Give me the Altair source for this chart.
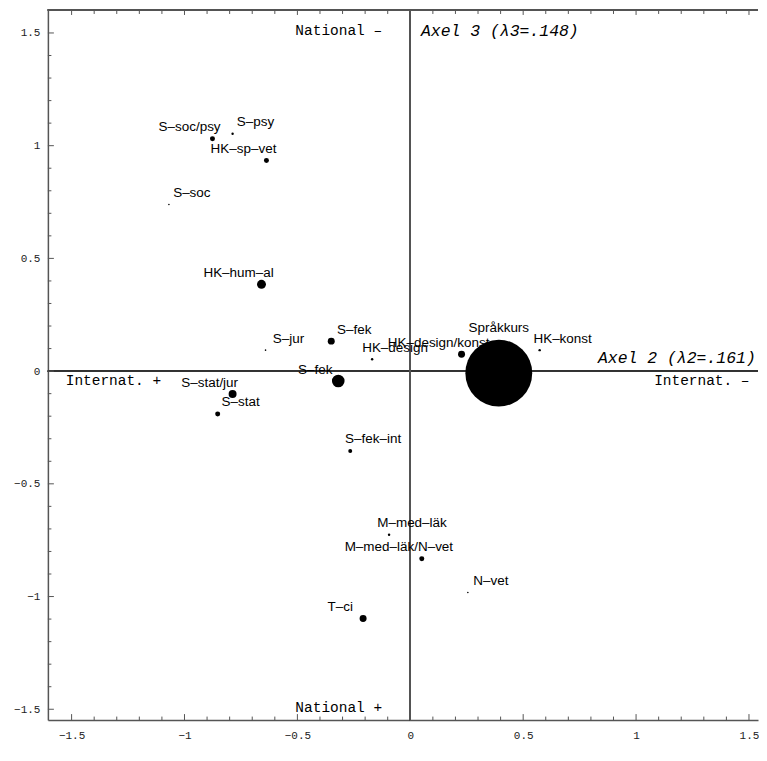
import altair as alt
import pandas as pd

# ---- data ----
NAMES = ["S–soc/psy", "S–psy", "HK–sp–vet", "S–soc", "HK–hum–al", "S–jur", "S–fek",
         "HK–design", "HK–design/konst", "Språkkurs", "HK–konst", "S–fek", "S–stat/jur",
         "S–stat", "S–fek–int", "M–med–läk", "M–med–läk/N–vet", "N–vet", "T–ci"]
AXIS2 = [-0.876, -0.787, -0.637, -1.069, -0.659, -0.641, -0.350,
         -0.169, 0.227, 0.392, 0.573, -0.319, -0.787,
         -0.853, -0.266, -0.094, 0.051, 0.255, -0.209]
AXIS3 = [1.031, 1.053, 0.934, 0.739, 0.385, 0.093, 0.133,
         0.053, 0.075, -0.009, 0.093, -0.044, -0.102,
         -0.190, -0.354, -0.726, -0.832, -0.982, -1.097]
MASS = [25, 6, 25, 2.5, 81, 2.5, 49,
        6, 49, 4489, 6, 160, 64,
        25, 16, 6, 25, 2.5, 49]
# label side: +1 right of point, -1 left of point, 0 above
SIDE = [-1, 1, -1, 1, -1, 1, 1,
        1, -1, 0, 1, -1, -1,
        1, 1, 1, -1, 1, -1]

MAJOR_TICKS = [-1.5, -1.0, -0.5, 0.0, 0.5, 1.0, 1.5]
MINOR_TICKS = [round(-1.5 + 0.1 * i, 1) for i in range(31) if i % 5 != 0]

ANNOT_TEXT = ["National –", "National +", "Internat. +", "Internat. –"]
ANNOT_X = [-0.509, -0.509, -1.526, 1.080]
ANNOT_Y = [1.509, -1.496, -0.044, -0.044]

AXEL_TEXT = ["Axel 3 (λ3=.148)", "Axel 2 (λ2=.161)"]
AXEL_X = [0.047, 1.530]
AXEL_Y = [1.509, 0.058]
AXEL_ALIGN = ["left", "right"]

W, H = 712, 712
XMIN, XMAX = -1.605, 1.540
YMIN, YMAX = -1.548, 1.602

df = pd.DataFrame({"name": NAMES, "d2": AXIS2, "d3": AXIS3, "mass": MASS, "side": SIDE})
ann = pd.DataFrame({"t": ANNOT_TEXT, "x": ANNOT_X, "y": ANNOT_Y})
axel = pd.DataFrame({"t": AXEL_TEXT, "x": AXEL_X, "y": AXEL_Y, "a": AXEL_ALIGN})
major = pd.DataFrame({"v": MAJOR_TICKS})
minor = pd.DataFrame({"v": MINOR_TICKS})

xs = alt.Scale(domain=[XMIN, XMAX], nice=False, zero=False)
ys = alt.Scale(domain=[YMIN, YMAX], nice=False, zero=False)

common_axis = dict(values=MAJOR_TICKS, format="~g", grid=False, ticks=False, tickSize=0,
                   domainColor="#555", domainWidth=1.5,
                   labelFont="Liberation Mono", labelFontSize=11, labelColor="#222",
                   labelFlush=False, labelOverlap=False)
xaxis = alt.Axis(labelPadding=9, **common_axis)
yaxis = alt.Axis(labelPadding=8, minExtent=40, maxExtent=40, **common_axis)

X = alt.X("d2:Q", scale=xs, axis=xaxis, title=None)
Y = alt.Y("d3:Q", scale=ys, axis=yaxis, title=None)

hline = alt.Chart(df).mark_rule(color="#333", strokeWidth=1).encode(y=alt.datum(0))
vline = alt.Chart(df).mark_rule(color="#555", strokeWidth=1).encode(x=alt.datum(0))
topline = alt.Chart(df).mark_rule(color="#555", strokeWidth=1.5).encode(y=alt.value(0))

points = alt.Chart(df).mark_circle(color="black", opacity=1).encode(
    x=X, y=Y,
    size=alt.Size("mass:Q", scale=alt.Scale(type="linear", domain=[0, 4489], range=[0, 4489]), legend=None),
)

label_font = dict(font="Liberation Sans", fontSize=13.5, color="black", baseline="middle", align="center")
lab_r = alt.Chart(df).transform_filter("datum.side == 1").mark_text(dx=23, dy=-11.5, **label_font).encode(x=X, y=Y, text="name:N")
lab_l = alt.Chart(df).transform_filter("datum.side == -1").mark_text(dx=-23, dy=-11.5, **label_font).encode(x=X, y=Y, text="name:N")
lab_c = alt.Chart(df).transform_filter("datum.side == 0").mark_text(dx=0, dy=-45, **label_font).encode(x=X, y=Y, text="name:N")

ann_txt = alt.Chart(ann).mark_text(font="Liberation Mono", fontSize=14.5, color="black",
                                   align="left", baseline="middle").encode(
    x=alt.X("x:Q", title=None), y=alt.Y("y:Q", title=None), text="t:N")
axel_l = alt.Chart(axel).transform_filter("datum.a == 'left'").mark_text(
    font="Liberation Mono", fontSize=16.5, fontStyle="italic", color="black",
    align="left", baseline="middle").encode(x=alt.X("x:Q", title=None), y=alt.Y("y:Q", title=None), text="t:N")
axel_r = alt.Chart(axel).transform_filter("datum.a == 'right'").mark_text(
    font="Liberation Mono", fontSize=16.5, fontStyle="italic", color="black",
    align="right", baseline="middle").encode(x=alt.X("x:Q", title=None), y=alt.Y("y:Q", title=None), text="t:N")

# inward ticks on the frame (left, bottom, top)
tk = dict(color="#555", strokeWidth=1)
left_major = alt.Chart(major).mark_rule(**tk).encode(
    x=alt.value(0), x2=alt.value(6), y=alt.Y("v:Q", title=None))
left_minor = alt.Chart(minor).mark_rule(**tk).encode(
    x=alt.value(0), x2=alt.value(3.5), y=alt.Y("v:Q", title=None))
bot_major = alt.Chart(major).mark_rule(**tk).encode(
    x=alt.X("v:Q", title=None), y=alt.value(H), y2=alt.value(H - 6))
bot_minor = alt.Chart(minor).mark_rule(**tk).encode(
    x=alt.X("v:Q", title=None), y=alt.value(H), y2=alt.value(H - 3.5))
top_major = alt.Chart(major).mark_rule(**tk).encode(
    x=alt.X("v:Q", title=None), y=alt.value(0), y2=alt.value(5))
top_minor = alt.Chart(minor).mark_rule(**tk).encode(
    x=alt.X("v:Q", title=None), y=alt.value(0), y2=alt.value(4))

chart = alt.layer(
    hline, vline, topline, points, lab_r, lab_l, lab_c, ann_txt, axel_l, axel_r,
    left_major, left_minor, bot_major, bot_minor, top_major, top_minor,
).properties(width=W, height=H, padding=0).configure_view(stroke="transparent")

chart.save("out.html", embed_options={"renderer": "svg", "actions": False})
